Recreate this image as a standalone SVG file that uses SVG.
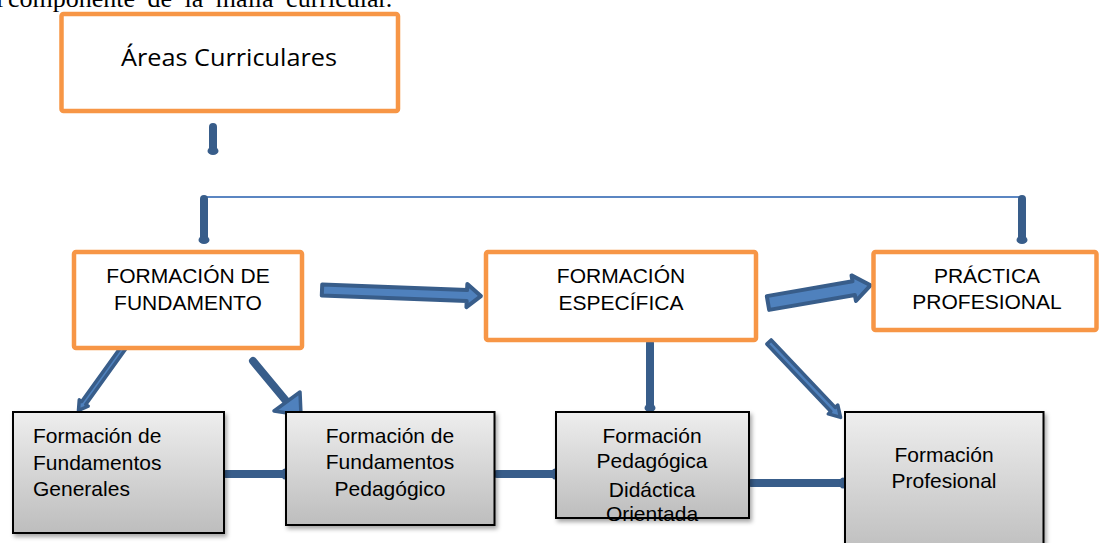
<svg xmlns="http://www.w3.org/2000/svg" width="1099" height="543" viewBox="0 0 1099 543">
<defs>
<linearGradient id="gray" x1="0" y1="0" x2="0" y2="1">
<stop offset="0" stop-color="#EEEEEE"/>
<stop offset="1" stop-color="#BDBDBD"/>
</linearGradient>
<filter id="shadow" x="-10%" y="-10%" width="130%" height="130%">
<feDropShadow dx="2" dy="3" stdDeviation="2" flood-color="#000" flood-opacity="0.35"/>
</filter>
<style>
.orange{fill:#FFFFFF;stroke:#F79646;stroke-width:4.5}
.grayb{fill:url(#gray);stroke:#000;stroke-width:2;filter:url(#shadow)}
.t{font-family:"Liberation Sans",Arial,sans-serif;font-size:21px;fill:#000}
.c{text-anchor:middle}
.title{font-family:"Open Sans","Liberation Sans",sans-serif;font-size:23px;fill:#000;text-anchor:middle}
.serif{font-family:"Liberation Serif","Times New Roman",serif;font-size:26px;fill:#000}
.line{stroke:#385D8A;stroke-width:8;stroke-linecap:round;fill:none}
.dot{fill:#385D8A}
.thin{stroke:#5B86C2;stroke-width:2;fill:none}
.block{fill:#4F81BD;stroke:#385D8A;stroke-width:4;stroke-linejoin:round}
.block2{fill:#4F81BD;stroke:#385D8A;stroke-width:3.5;stroke-linejoin:round}
</style>
</defs>
<rect width="1099" height="543" fill="#FFFFFF"/>
<text class="serif" y="7"><tspan x="-4">l</tspan><tspan x="8" word-spacing="6">componente de la malla curricular.</tspan></text>

<g id="connectors">
<line class="line" x1="213" y1="127" x2="213" y2="150"/>
<ellipse class="dot" cx="213" cy="151" rx="5.5" ry="4"/>
<line class="thin" x1="206" y1="197" x2="1021" y2="197"/>
<line class="line" x1="204" y1="199" x2="204" y2="239"/>
<ellipse class="dot" cx="204" cy="240" rx="5.5" ry="4"/>
<line class="line" x1="1022" y1="199" x2="1022" y2="239"/>
<ellipse class="dot" cx="1022" cy="240" rx="5.5" ry="4"/>
<polygon class="block" points="0,-5.5 145,-5.5 145,-11.5 159,0 145,11.5 145,5.5 0,5.5" transform="translate(322,290) rotate(2.2)"/>
<polygon class="block" points="0,-7 87,-7 87,-13 104,0 87,13 87,7 0,7" transform="translate(768,303) rotate(-9.8)"/>
<polygon class="block2" points="0,-2.5 69,-2.5 69,-5.5 78,0 69,5.5 69,2.5 0,2.5" transform="translate(124,347) rotate(125.7)"/>
<line class="line" x1="253" y1="361" x2="287" y2="402"/>
<polygon class="block2" points="300,392 301,415 274,411"/>
<line class="line" x1="650" y1="343" x2="650" y2="407"/>
<ellipse class="dot" cx="650" cy="408" rx="5.5" ry="4"/>
<polygon class="block2" points="0,-3 93,-3 93,-6.5 104,0 93,6.5 93,3 0,3" transform="translate(769,342) rotate(46.5)"/>
<line class="line" x1="226" y1="474" x2="284" y2="474"/>
<ellipse class="dot" cx="285" cy="474" rx="4" ry="5.5"/>
<line class="line" x1="497" y1="474" x2="554" y2="474"/>
<ellipse class="dot" cx="555" cy="474" rx="4" ry="5.5"/>
<line class="line" x1="751" y1="483" x2="842" y2="483"/>
<ellipse class="dot" cx="843" cy="483" rx="4" ry="5.5"/>
</g>

<g id="areas">
<rect class="orange" x="61.5" y="14" width="336.5" height="97" rx="2"/>
<text class="title" x="229" y="66" textLength="216" lengthAdjust="spacingAndGlyphs">Áreas Curriculares</text>
</g>

<g id="fundamento">
<rect class="orange" x="74" y="252" width="228" height="96" rx="2"/>
<text class="t c" x="188" y="283">FORMACIÓN DE</text>
<text class="t c" x="188" y="310">FUNDAMENTO</text>
</g>

<g id="especifica">
<rect class="orange" x="486" y="252" width="270" height="88" rx="2"/>
<text class="t c" x="621" y="283">FORMACIÓN</text>
<text class="t c" x="621" y="310">ESPECÍFICA</text>
</g>

<g id="practica">
<rect class="orange" x="873.5" y="252" width="223" height="78" rx="2"/>
<text class="t c" x="987" y="283">PRÁCTICA</text>
<text class="t c" x="987" y="309">PROFESIONAL</text>
</g>

<g id="generales">
<rect class="grayb" x="13" y="412" width="211" height="121"/>
<text class="t" x="33" y="443">Formación de</text>
<text class="t" x="33" y="470">Fundamentos</text>
<text class="t" x="33" y="496">Generales</text>
</g>

<g id="pedagogico">
<rect class="grayb" x="286" y="412" width="208.5" height="113"/>
<text class="t c" x="390" y="443">Formación de</text>
<text class="t c" x="390" y="469">Fundamentos</text>
<text class="t c" x="390" y="496">Pedagógico</text>
</g>

<g id="didactica">
<rect class="grayb" x="556" y="412" width="193" height="106"/>
<text class="t c" x="652" y="443">Formación</text>
<text class="t c" x="652" y="468">Pedagógica</text>
<text class="t c" x="652" y="497">Didáctica</text>
<text class="t c" x="652" y="521">Orientada</text>
</g>

<g id="profesional">
<rect class="grayb" x="845" y="412" width="198.5" height="145"/>
<text class="t c" x="944" y="462">Formación</text>
<text class="t c" x="944" y="488">Profesional</text>
</g>
</svg>
